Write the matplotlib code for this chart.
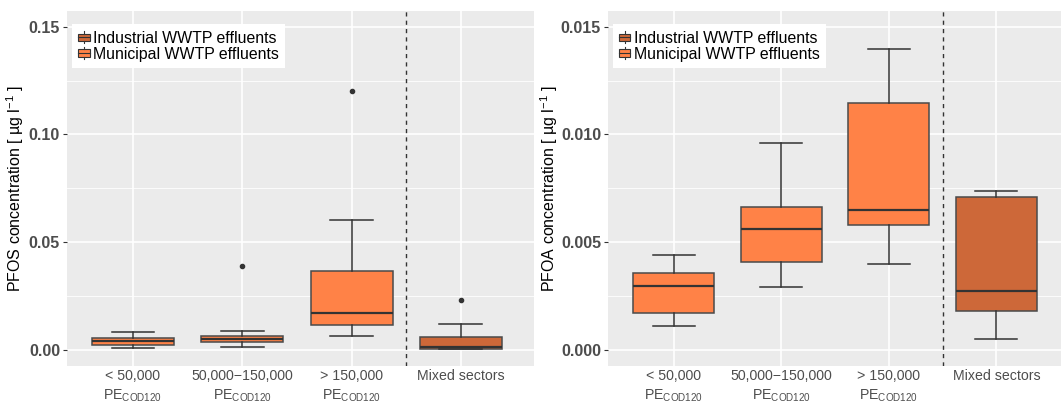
import matplotlib
matplotlib.use("Agg")
import matplotlib.pyplot as plt
from matplotlib.patches import Patch, Rectangle
from matplotlib.lines import Line2D
from matplotlib.legend_handler import HandlerBase

plt.rcParams["font.family"] = ["Liberation Sans", "DejaVu Sans"]
plt.rcParams["mathtext.fontset"] = "custom"
plt.rcParams["mathtext.rm"] = "Liberation Sans"
plt.rcParams["mathtext.it"] = "Liberation Sans:italic"
plt.rcParams["mathtext.bf"] = "Liberation Sans:bold"

categories = ["< 50,000", "50,000\u2212150,000", "> 150,000", "Mixed sectors"]
sector = ["municipal", "municipal", "municipal", "industrial"]

# PFOS summary stats, ug/l
pfos_whislo = [0.0006, 0.0011, 0.0062, 0.0003]
pfos_q1 = [0.0020, 0.0034, 0.0115, 0.0005]
pfos_med = [0.0039, 0.0048, 0.0170, 0.0013]
pfos_q3 = [0.0056, 0.0062, 0.0367, 0.0059]
pfos_whishi = [0.0084, 0.0088, 0.0600, 0.0121]
pfos_fliers = [[], [0.039], [0.120], [0.0229]]

# PFOA summary stats, ug/l
pfoa_whislo = [0.0011, 0.0029, 0.0040, 0.0005]
pfoa_q1 = [0.00172, 0.00406, 0.00578, 0.0018]
pfoa_med = [0.00296, 0.00559, 0.0065, 0.00274]
pfoa_q3 = [0.00356, 0.00663, 0.01147, 0.00708]
pfoa_whishi = [0.0044, 0.00958, 0.01398, 0.00738]
pfoa_fliers = [[], [], [], []]

colors = {"municipal": "#FF8247", "industrial": "#CD6839"}
legend_labels = ["Industrial WWTP effluents", "Municipal WWTP effluents"]
line_col = "#333333"


class BoxKey(HandlerBase):
    def create_artists(self, legend, orig_handle, xdescent, ydescent,
                       width, height, fontsize, trans):
        x0, y0 = -xdescent, -ydescent
        fc = orig_handle.get_facecolor()
        rect = Rectangle((x0, y0 + 0.2 * height), width, 0.6 * height,
                         facecolor=fc, edgecolor=line_col, lw=0.8, transform=trans)
        xm = x0 + width / 2
        arts = [rect,
                Line2D([x0, x0 + width], [y0 + 0.5 * height] * 2, color=line_col, lw=0.8, transform=trans),
                Line2D([xm, xm], [y0, y0 + 0.2 * height], color=line_col, lw=0.8, transform=trans),
                Line2D([xm, xm], [y0 + 0.8 * height, y0 + height], color=line_col, lw=0.8, transform=trans)]
        return arts


def make_stats(whislo, q1, med, q3, whishi, fliers):
    return [dict(whislo=a, q1=b, med=c, q3=d, whishi=e, fliers=f)
            for a, b, c, d, e, f in zip(whislo, q1, med, q3, whishi, fliers)]


def panel(ax, stats, ylim, ticks, ticklabels, minor, ylabel, xlim, label_x):
    ax.set_facecolor("#EBEBEB")
    for s in ax.spines.values():
        s.set_visible(False)
    ax.set_axisbelow(True)
    pos = list(range(1, len(categories) + 1))
    for y in minor:
        ax.axhline(y, color="white", lw=0.6, zorder=0)
    for y in ticks:
        ax.axhline(y, color="white", lw=1.2, zorder=0)
    for x in pos:
        ax.axvline(x, color="white", lw=1.2, zorder=0)

    bp = ax.bxp(stats, positions=pos, widths=0.75, capwidths=0.39, patch_artist=True,
                boxprops=dict(edgecolor="#4a4a4a", lw=1.1),
                medianprops=dict(color=line_col, lw=1.6),
                whiskerprops=dict(color=line_col, lw=1.1),
                capprops=dict(color=line_col, lw=1.1),
                flierprops=dict(marker="o", markersize=3, markerfacecolor=line_col,
                                markeredgecolor=line_col))
    for patch, sec in zip(bp["boxes"], sector):
        patch.set_facecolor(colors[sec])

    ax.axvline(3.5, color=line_col, lw=1.0, ls=(0, (3, 3)))
    ax.set_xlim(*xlim)
    ax.set_ylim(*ylim)
    ax.set_yticks(ticks)
    ax.set_yticklabels(ticklabels, fontsize=11.5, fontweight="bold", color="#4D4D4D")
    labels = [c + "\n$\\mathregular{PE_{COD120}}$" if i < 3 else c
              for i, c in enumerate(categories)]
    ax.set_xticks(pos)
    ax.set_xticklabels(labels, fontsize=10.2, color="#4D4D4D", va="top", linespacing=1.38)
    ax.tick_params(axis="both", length=3, color=line_col, width=0.8)
    ax.tick_params(axis="y", pad=2)
    ax.tick_params(axis="x", length=0, pad=2)
    ax.set_ylabel(ylabel, fontsize=11.5, color="black")
    ax.yaxis.set_label_coords(label_x, 0.5)

    handles = [Patch(facecolor=colors["industrial"]), Patch(facecolor=colors["municipal"])]
    leg = ax.legend(handles, legend_labels, handler_map={Patch: BoxKey()},
                    loc="upper left", bbox_to_anchor=(0.011, 0.962), borderaxespad=0,
                    fontsize=11.4, frameon=True, fancybox=False, framealpha=1,
                    edgecolor="white", handlelength=0.7, handleheight=0.8,
                    handletextpad=0.2, labelspacing=0.05, borderpad=0.4)
    leg.get_frame().set_linewidth(0)


fig = plt.figure(figsize=(10.61, 4.03), dpi=100)
ax1 = fig.add_axes([67 / 1061, 37 / 403, 467 / 1061, 355 / 403])
ax2 = fig.add_axes([608 / 1061, 37 / 403, 453 / 1061, 355 / 403])

panel(ax1, make_stats(pfos_whislo, pfos_q1, pfos_med, pfos_q3, pfos_whishi, pfos_fliers),
      (-0.0076, 0.1573), [0.0, 0.05, 0.10, 0.15], ["0.00", "0.05", "0.10", "0.15"],
      [0.025, 0.075, 0.125], "PFOS concentration [ \u00b5g l$^{-1}$ ]", (0.396, 4.67), -0.088)
panel(ax2, make_stats(pfoa_whislo, pfoa_q1, pfoa_med, pfoa_q3, pfoa_whishi, pfoa_fliers),
      (-0.00076, 0.01573), [0.0, 0.005, 0.010, 0.015], ["0.000", "0.005", "0.010", "0.015"],
      [0.0025, 0.0075, 0.0125], "PFOA concentration [ \u00b5g l$^{-1}$ ]", (0.39, 4.6), -0.106)

fig.savefig("out.png", dpi=100)
